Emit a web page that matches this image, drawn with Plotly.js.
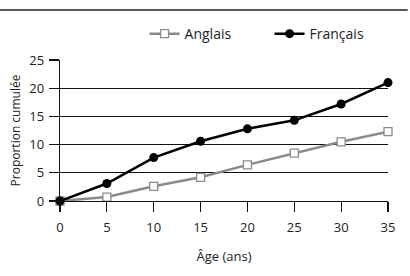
<!DOCTYPE html>
<html><head><meta charset="utf-8">
<script src="https://cdn.plot.ly/plotly-3.0.1.min.js"></script>
<style>html,body{margin:0;padding:0;background:#fff}#c{width:410px;height:276px}</style>
</head><body><div id="c"></div>
<script>
const ages = [0, 5, 10, 15, 20, 25, 30, 35];
const anglais = [0, 0.7, 2.6, 4.2, 6.4, 8.5, 10.5, 12.3];
const francais = [0, 3.1, 7.7, 10.6, 12.8, 14.3, 17.2, 21.0];
const seriesNames = ['Anglais', 'Français'];
const xTitle = 'Âge (ans)';
const yTitle = 'Proportion cumulée';

const font = {family: 'Open Sans, sans-serif', size: 12, color: '#222'};
const tickFont = {family: 'Open Sans, sans-serif', size: 13, color: '#222'};
const traces = [
  {x: ages, y: anglais, name: seriesNames[0], type: 'scatter', mode: 'lines+markers', cliponaxis: false,
   line: {color: '#8a8a8a', width: 2.5},
   marker: {symbol: 'square', size: 8, color: '#fff', line: {color: '#8a8a8a', width: 1.3}}},
  {x: ages, y: francais, name: seriesNames[1], type: 'scatter', mode: 'lines+markers', cliponaxis: false,
   line: {color: '#000', width: 2.5},
   marker: {symbol: 'circle', size: 9, color: '#000'}}
];
const layout = {
  width: 410, height: 276,
  margin: {l: 60, r: 22, t: 60, b: 75},
  paper_bgcolor: '#fff', plot_bgcolor: '#fff',
  font: font,
  showlegend: true,
  legend: {orientation: 'h', x: 1.02, xanchor: 'right', y: 1.184, yanchor: 'middle', entrywidth: 80,
           font: {family: 'Open Sans, sans-serif', size: 14, color: '#222'}, traceorder: 'normal'},
  xaxis: {range: [0, 35], tickvals: ages, ticks: 'outside', ticklen: 10, tickcolor: '#111', tickwidth: 1.2,
          showline: true, linecolor: '#111', linewidth: 1.2, showgrid: false, zeroline: false,
          tickfont: tickFont, ticklabelstandoff: 4,
          title: {text: xTitle, font: tickFont, standoff: 17}},
  yaxis: {range: [0, 25], dtick: 5, ticks: 'outside', ticklen: 10, tickcolor: '#111', tickwidth: 1.2,
          showline: true, linecolor: '#111', linewidth: 1.2, showgrid: true, gridcolor: '#111', gridwidth: 1.2,
          zeroline: false, tickfont: tickFont, ticklabelstandoff: 2,
          title: {text: yTitle, font: font, standoff: 6}},
  shapes: [{type: 'line', xref: 'paper', yref: 'paper', x0: -0.19, x1: 1.06, y0: 1.355, y1: 1.355,
            line: {color: '#222', width: 1.5}}]
};
Plotly.newPlot('c', traces, layout, {displayModeBar: false, staticPlot: true});
</script></body></html>
